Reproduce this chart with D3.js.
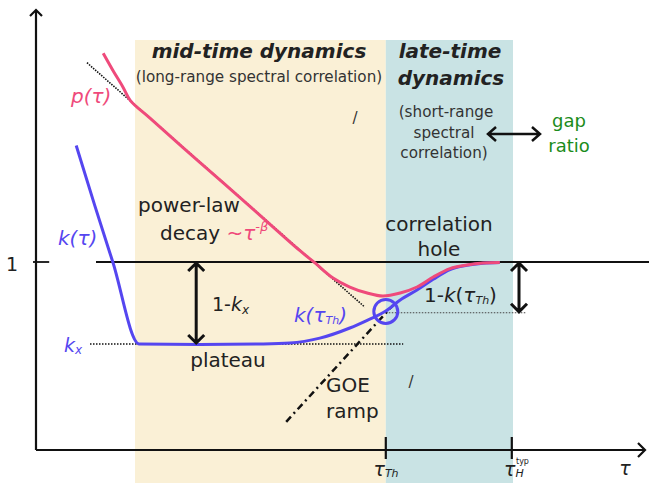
<!DOCTYPE html>
<html>
<head>
<meta charset="utf-8">
<script src="https://cdn.jsdelivr.net/npm/d3@7"></script>
<style>
body{margin:0;background:#fff}
svg{display:block;font-family:"DejaVu Sans",Verdana,sans-serif}
</style>
</head>
<body>
<div id="chart"></div>
<script>
// x : position along the (log) time axis, arbitrary units ; y : form factor value (1 = saturation)
let p_t=[1.12,1.28,1.45,1.57,1.9,2.73,3.57,4.4,4.65,4.95,5.23,5.52,5.78,6.07,6.35,6.62,6.9,7.18,7.45,7.73]
let p_val=[2.11,2.02,1.93,1.86,1.765,1.53,1.295,1.06,0.995,0.915,0.867,0.835,0.819,0.835,0.867,0.92,0.965,0.984,0.995,0.998]
let k_t=[0.67,0.98,1.28,1.72,2.73,3.73,4.23,4.73,5.23,5.52,5.83,6.07,6.35,6.62,6.9,7.18,7.45,7.73]
let k_val=[1.62,1.30,1.0,0.564,0.561,0.564,0.569,0.595,0.649,0.69,0.739,0.798,0.851,0.908,0.96,0.982,0.993,0.997]
let powerlaw_t=[0.85,5.48]
let powerlaw_val=[2.06,0.76]
let goe_t=[4.17,5.95]
let goe_val=[0.15,0.77]
let plateau_val=0.564
let kth_val=0.73
let tau_th=5.83
let tau_h=7.93
let mid_region=[1.65,5.83]
let late_region=[5.83,7.95]

let width=649, height=483
let pink="#ef4a7b", blue="#5546f0", green="#1b8c1b", ink="#222"

let x=d3.scaleLinear().domain([0,10]).range([36,636])
let y=d3.scaleLinear().domain([0,1]).range([450,262])

let svg=d3.select("#chart").append("svg")
	.attr("width",width)
	.attr("height",height)

// background regions
svg.append("rect")
	.attr("x",x(mid_region[0])).attr("y",40)
	.attr("width",x(mid_region[1])-x(mid_region[0])).attr("height",height-40)
	.attr("fill","#faf0d6")
svg.append("rect")
	.attr("x",x(late_region[0])).attr("y",40)
	.attr("width",x(late_region[1])-x(late_region[0])).attr("height",height-40)
	.attr("fill","#c9e3e4")

// saturation line at 1
svg.append("line")
	.attr("x1",x(1.0)).attr("x2",width)
	.attr("y1",y(1)).attr("y2",y(1))
	.attr("stroke","#111").attr("stroke-width",1.8)
svg.append("line")
	.attr("x1",x(-0.05)).attr("x2",x(0.22))
	.attr("y1",y(1)).attr("y2",y(1))
	.attr("stroke","#111").attr("stroke-width",1.8)

// dotted guide lines
svg.append("line")
	.attr("x1",x(0.9)).attr("x2",x(6.12))
	.attr("y1",y(plateau_val)).attr("y2",y(plateau_val))
	.attr("stroke","#111").attr("stroke-width",1.6).attr("stroke-dasharray","1.5,1.5")
svg.append("line")
	.attr("x1",x(tau_th)).attr("x2",x(8.18))
	.attr("y1",y(kth_val)).attr("y2",y(kth_val))
	.attr("stroke","#444").attr("stroke-width",1.1).attr("stroke-dasharray","1.5,1.5")
svg.append("line")
	.attr("x1",x(powerlaw_t[0])).attr("x2",x(powerlaw_t[1]))
	.attr("y1",y(powerlaw_val[0])).attr("y2",y(powerlaw_val[1]))
	.attr("stroke","#111").attr("stroke-width",1.6).attr("stroke-dasharray","1.5,1.2")
svg.append("line")
	.attr("x1",x(goe_t[0])).attr("x2",x(goe_t[1]))
	.attr("y1",y(goe_val[0])).attr("y2",y(goe_val[1]))
	.attr("stroke","#111").attr("stroke-width",2.5).attr("stroke-dasharray","7,4,2,4")

// curves
let line_k=d3.line().x(d=>x(d[0])).y(d=>y(d[1])).curve(d3.curveMonotoneX)
let line_p=d3.line().x(d=>x(d[0])).y(d=>y(d[1])).curve(d3.curveCatmullRom.alpha(0.5))
svg.append("path")
	.attr("d",line_k(k_t.map((t,i)=>[t,k_val[i]])))
	.attr("fill","none").attr("stroke",blue).attr("stroke-width",3)
svg.append("path")
	.attr("d",line_p(p_t.map((t,i)=>[t,p_val[i]])))
	.attr("fill","none").attr("stroke",pink).attr("stroke-width",3)

svg.append("circle")
	.attr("cx",x(tau_th)).attr("cy",y(0.737)).attr("r",12)
	.attr("fill","none").attr("stroke",blue).attr("stroke-width",3)

// axes
let axis=svg.append("g").attr("stroke","#111").attr("stroke-width",2.2).attr("fill","none")
axis.append("path").attr("d",`M36,450V10M30,16L36,10L42,16`)
axis.append("path").attr("d",`M36,450H645M638,443L645,450L638,457`)
axis.selectAll(".tick").data([tau_th,tau_h]).enter().append("line")
	.attr("x1",d=>x(d)).attr("x2",d=>x(d)).attr("y1",437).attr("y2",459)

// double arrows
function arrowV(xp,y1,y2)
{
	let g=svg.append("g").attr("stroke","#111").attr("stroke-width",3).attr("fill","none")
	g.append("path").attr("d",`M${xp},${y1+1}V${y2-1}M${xp-8},${y1+9}L${xp},${y1+1}L${xp+8},${y1+9}M${xp-8},${y2-9}L${xp},${y2-1}L${xp+8},${y2-9}`)
}
function arrowH(x1,x2,yp)
{
	let g=svg.append("g").attr("stroke","#111").attr("stroke-width",2.5).attr("fill","none")
	g.append("path").attr("d",`M${x1},${yp}H${x2}M${x1+8},${yp-7}L${x1},${yp}L${x1+8},${yp+7}M${x2-8},${yp-7}L${x2},${yp}L${x2-8},${yp+7}`)
}
arrowV(x(2.67),y(1),y(plateau_val))
arrowV(x(8.05),y(1),y(kth_val))
arrowH(488,540,134)

// texts
function txt(xp,yp,size,color,anchor)
{
	return svg.append("text").attr("x",xp).attr("y",yp)
		.attr("font-size",size).attr("fill",color).attr("text-anchor",anchor||"start")
}
txt(259,58,20,ink,"middle").attr("font-weight","bold").attr("font-style","italic").text("mid-time dynamics")
txt(259,82,15.2,"#333","middle").text("(long-range spectral correlation)")
txt(450,58,20,ink,"middle").attr("font-weight","bold").attr("font-style","italic").text("late-time")
txt(451,85,20,ink,"middle").attr("font-weight","bold").attr("font-style","italic").text("dynamics")
txt(446,117,15.2,"#333","middle").text("(short-range")
txt(444,138,15.2,"#333","middle").text("spectral")
txt(444,158,15.2,"#333","middle").text("correlation)")
txt(569,127,18,green,"middle").text("gap")
txt(569,152,18,green,"middle").text("ratio")

txt(71,103,20,pink).attr("font-style","italic").text("p(τ)")
txt(58,245,20,blue).attr("font-style","italic").text("k(τ)")
let kx=txt(64,352,19,blue).attr("font-style","italic")
kx.append("tspan").text("k")
kx.append("tspan").attr("font-size",12).attr("dy",2).text("x")

txt(12,271,19,ink,"middle").text("1")
txt(189,212,20,ink,"middle").text("power-law")
let decay=txt(160,240,20,ink)
decay.append("tspan").text("decay ")
decay.append("tspan").attr("fill",pink).text("~")
decay.append("tspan").attr("fill",pink).attr("font-style","italic").text("τ")
decay.append("tspan").attr("fill",pink).attr("font-style","italic").attr("font-size",13).attr("dy",-9).text("-β")

let onekx=txt(212,311,19,ink)
onekx.append("tspan").text("1-")
onekx.append("tspan").attr("font-style","italic").text("k")
onekx.append("tspan").attr("font-style","italic").attr("font-size",12).attr("dy",3).text("x")
txt(228,367,20,ink,"middle").text("plateau")

let kth=txt(294,322,20,blue).attr("font-style","italic")
kth.append("tspan").text("k(τ")
kth.append("tspan").attr("font-size",11).attr("dy",2).text("Th")
kth.append("tspan").attr("dy",-2).text(")")

txt(439,231,20,ink,"middle").text("correlation")
txt(439,256,20,ink,"middle").text("hole")
let onekth=txt(424,302,20,ink)
onekth.append("tspan").text("1-")
onekth.append("tspan").attr("font-style","italic").text("k")
onekth.append("tspan").text("(")
onekth.append("tspan").attr("font-style","italic").text("τ")
onekth.append("tspan").attr("font-style","italic").attr("font-size",11).attr("dy",2).text("Th")
onekth.append("tspan").attr("dy",-2).text(")")

txt(326,392,20,ink).text("GOE")
txt(326,418,20,ink).text("ramp")

txt(355,123,15,"#333","middle").text("/")
txt(411,387,15,"#333","middle").text("/")

// axis labels
let lth=txt(386,476,19,ink,"middle").attr("font-style","italic")
lth.append("tspan").text("τ")
lth.append("tspan").attr("font-size",11).attr("dy",1).text("Th")
let lh=txt(504,476,19,ink).attr("font-style","italic")
lh.append("tspan").text("τ")
lh.append("tspan").attr("font-size",11).attr("dy",1).text("H")
lh.append("tspan").attr("font-size",8).attr("font-style","normal").attr("x",516).attr("dy",-13).text("typ")
txt(625,475,19,ink,"middle").attr("font-style","italic").text("τ")
</script>
</body>
</html>
